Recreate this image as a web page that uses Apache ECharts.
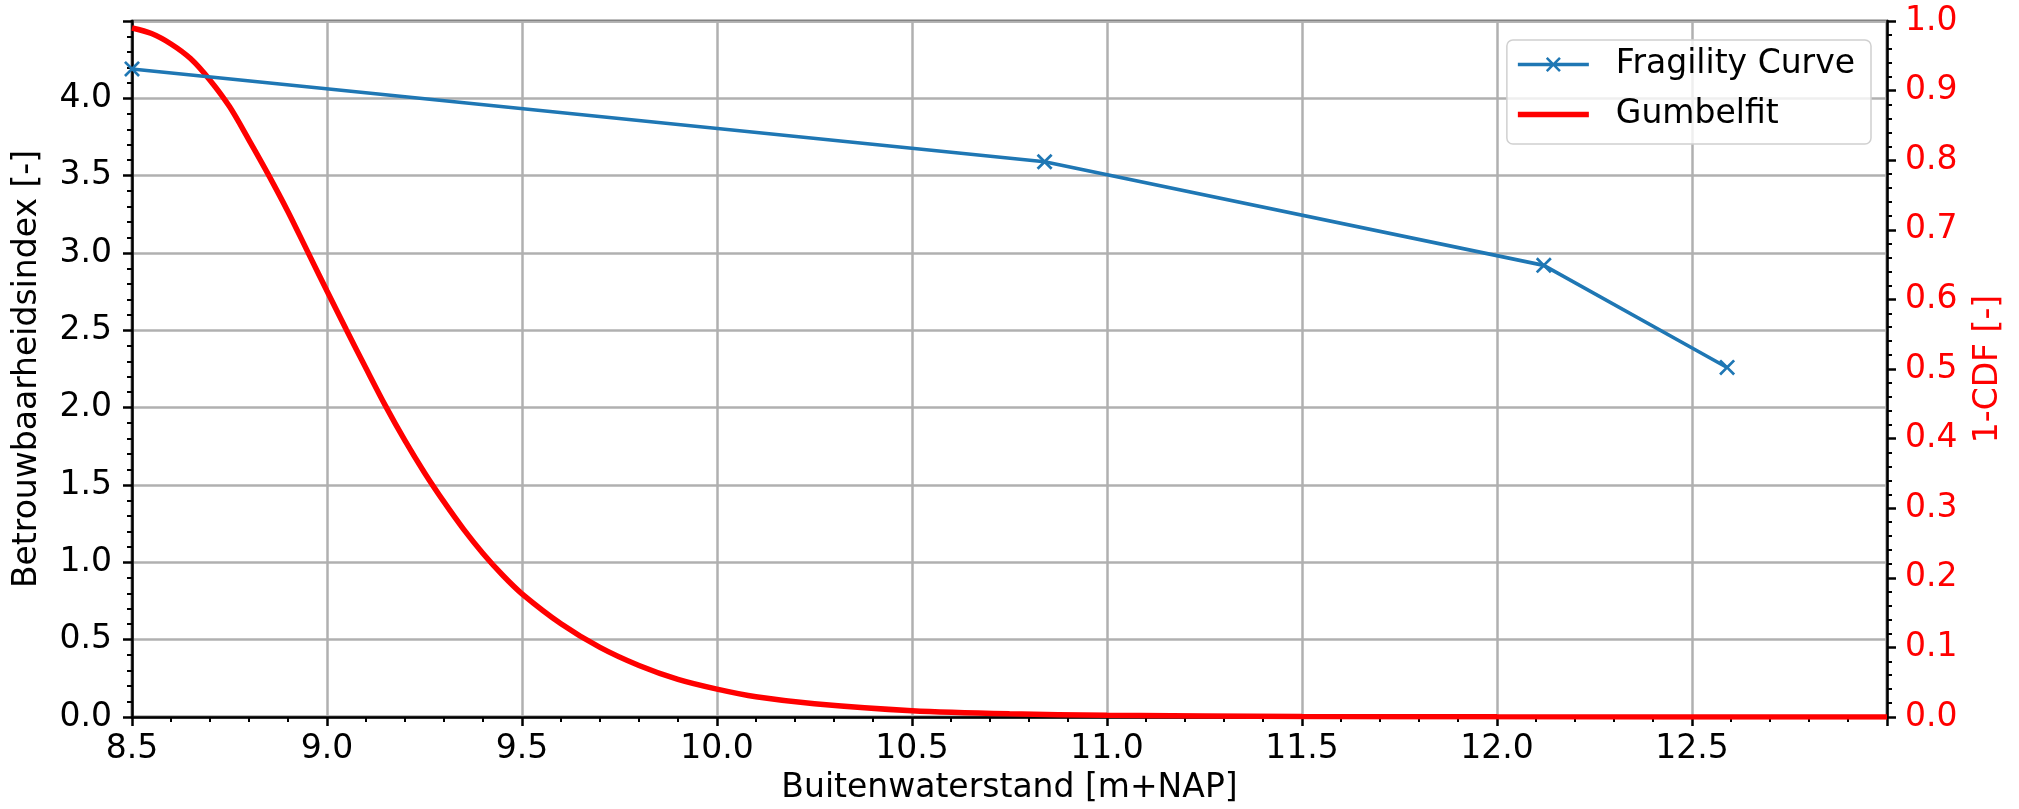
<!DOCTYPE html>
<html>
<head>
<meta charset="utf-8">
<script src="https://cdn.jsdelivr.net/npm/echarts@6/dist/echarts.min.js"></script>
<style>
  html, body { margin: 0; padding: 0; background: #fff; }
  #chart { width: 2019px; height: 809px; }
</style>
</head>
<body>
<div id="chart"></div>
<script>
// fragility curve
var fragX = [8.5, 10.84, 12.12, 12.59];
var fragY = [4.19, 3.59, 2.92, 2.26];

// gumbel fit, 1-CDF
var gumbelX = [8.50, 8.55, 8.60, 8.65, 8.70, 8.75, 8.80, 8.85, 8.90, 8.95,
               9.00, 9.05, 9.10, 9.15, 9.20, 9.25, 9.30, 9.35, 9.40, 9.45,
               9.50, 9.60, 9.70, 9.80, 9.90, 10.00, 10.10, 10.25, 10.50, 10.75,
               11.00, 11.50, 12.00, 13.00];
var gumbelY = [0.990, 0.982, 0.967, 0.946, 0.915, 0.877, 0.829, 0.779, 0.726, 0.669,
               0.612, 0.556, 0.501, 0.447, 0.397, 0.351, 0.309, 0.270, 0.235, 0.204,
               0.177, 0.134, 0.100, 0.074, 0.054, 0.040, 0.029, 0.019, 0.009, 0.0045,
               0.0025, 0.0008, 0.0002, 0.0];

var xMin = 8.5, xMax = 13.0, xStep = 0.5;
var yMin = 0, yMax = 4.5, yStep = 0.5;
var y2Min = 0, y2Max = 1.0, y2Step = 0.1;

var FONT = 'DejaVu Sans';
var FS = 33;

function pairs(xs, ys) {
  return xs.map(function (x, i) { return [x, ys[i]]; });
}

// 'x' marker as a filled path
var xMark = 'path://M0,1.2 L1.2,0 L5,3.8 L8.8,0 L10,1.2 L6.2,5 L10,8.8 L8.8,10 L5,6.2 L1.2,10 L0,8.8 L3.8,5 Z';
// legend handles: line with an x in the middle / plain thick line
var legFrag = 'path://M0,5.7 L71,5.7 L71,9.3 L0,9.3 Z ' +
  'M28,1.8 L29.8,0 L35.5,5.7 L41.2,0 L43,1.8 L37.3,7.5 L43,13.2 L41.2,15 L35.5,9.3 L29.8,15 L28,13.2 L33.7,7.5 Z';
var legGumbel = 'path://M0,0 L71,0 L71,5.5 L0,5.5 Z';

var dom = echarts.init(document.getElementById('chart'));

var option = {
  animation: false,
  backgroundColor: '#fff',
  textStyle: { fontFamily: FONT },
  grid: {
    left: 132, right: 132, top: 21, bottom: 92,
    show: true, borderColor: '#000', borderWidth: 2.5,
    outerBoundsMode: 'none'
  },
  legend: {
    orient: 'vertical',
    right: 148, top: 40,
    padding: [8, 16, 13, 11],
    itemWidth: 71, itemHeight: 33, itemGap: 17,
    symbolKeepAspect: true,
    backgroundColor: 'rgba(255,255,255,0.8)',
    borderColor: '#d0d0d0', borderWidth: 1.5, borderRadius: 6,
    textStyle: { fontFamily: FONT, fontSize: FS, color: '#000', lineHeight: 33, padding: [0, 0, 0, 22] },
    data: [
      { name: 'Fragility Curve', icon: legFrag },
      { name: 'Gumbelfit', icon: legGumbel }
    ]
  },
  xAxis: {
    type: 'value',
    min: xMin, max: xMax, interval: xStep,
    name: 'Buitenwaterstand [m+NAP]',
    nameLocation: 'middle', nameGap: 55,
    nameTextStyle: { fontFamily: FONT, fontSize: FS, color: '#000' },
    axisLine: { show: true, onZero: false, lineStyle: { color: '#000', width: 2.5 } },
    axisTick: { show: true, length: 9, lineStyle: { color: '#000', width: 2.5 } },
    minorTick: { show: true, splitNumber: 5, length: 5, lineStyle: { color: '#000', width: 2 } },
    axisLabel: {
      fontFamily: FONT, fontSize: FS, color: '#000', margin: 16,
      showMaxLabel: false,
      formatter: function (v) { return v.toFixed(1); }
    },
    splitLine: { show: true, lineStyle: { color: '#b0b0b0', width: 2.5 } }
  },
  yAxis: [{
    type: 'value',
    position: 'left',
    min: yMin, max: yMax, interval: yStep,
    name: 'Betrouwbaarheidsindex [-]',
    nameLocation: 'middle', nameGap: 88, nameRotate: 90,
    nameTextStyle: { fontFamily: FONT, fontSize: FS, color: '#000' },
    axisLine: { show: true, lineStyle: { color: '#000', width: 2.5 } },
    axisTick: { show: true, length: 9, lineStyle: { color: '#000', width: 2.5 } },
    minorTick: { show: true, splitNumber: 5, length: 5, lineStyle: { color: '#000', width: 2 } },
    axisLabel: {
      fontFamily: FONT, fontSize: FS, color: '#000', margin: 20,
      showMaxLabel: false,
      formatter: function (v) { return v.toFixed(1); }
    },
    splitLine: { show: true, lineStyle: { color: '#b0b0b0', width: 2.5 } }
  }, {
    type: 'value',
    position: 'right',
    min: y2Min, max: y2Max, interval: y2Step,
    name: '1-CDF [-]',
    nameLocation: 'middle', nameGap: 85, nameRotate: 90,
    nameTextStyle: { fontFamily: FONT, fontSize: FS, color: '#ff0000' },
    axisLine: { show: true, lineStyle: { color: '#000', width: 2.5 } },
    axisTick: { show: true, length: 9, lineStyle: { color: '#000', width: 2.5 } },
    minorTick: { show: true, splitNumber: 5, length: 5, lineStyle: { color: '#000', width: 2 } },
    axisLabel: {
      fontFamily: FONT, fontSize: FS, color: '#ff0000', margin: 18,
      formatter: function (v) { return v.toFixed(1); }
    },
    splitLine: { show: false }
  }],
  series: [{
    name: 'Fragility Curve',
    type: 'line',
    yAxisIndex: 0,
    data: pairs(fragX, fragY),
    symbol: xMark,
    symbolSize: 16,
    showAllSymbol: true,
    itemStyle: { color: '#1f77b4' },
    lineStyle: { color: '#1f77b4', width: 3.6 },
    z: 3
  }, {
    name: 'Gumbelfit',
    type: 'line',
    yAxisIndex: 1,
    data: pairs(gumbelX, gumbelY),
    symbol: 'none',
    smooth: 0.3,
    itemStyle: { color: '#ff0000' },
    lineStyle: { color: '#ff0000', width: 5.5 },
    z: 2
  }]
};

dom.setOption(option);
</script>
</body>
</html>
